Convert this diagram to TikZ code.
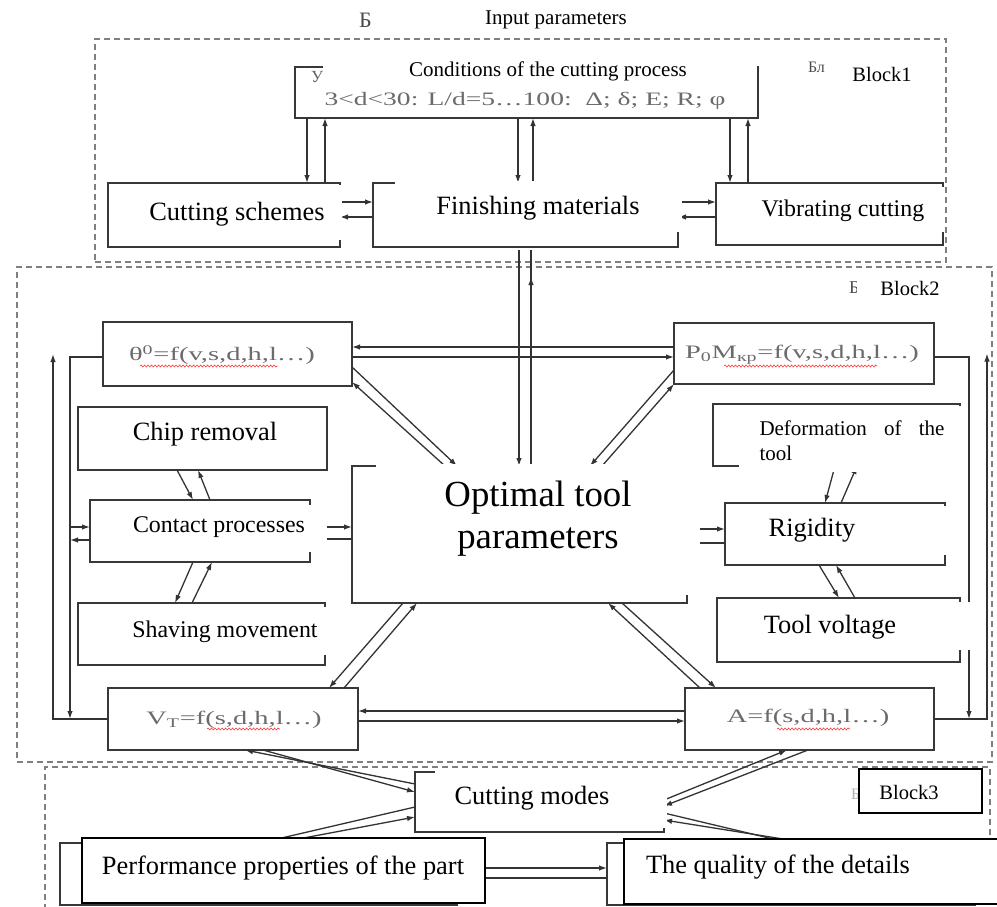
\documentclass[tikz,border=0pt]{standalone}
\usepackage{fontspec}
\usepackage{graphicx}
\setmainfont{Liberation Serif}
\usetikzlibrary{arrows.meta,decorations.pathmorphing}
\newcommand\bx[6]{\node[#6,anchor=north west,minimum width={#4pt-#2pt},minimum height={#5pt-#3pt}] (#1) at (#2,#3) {};}
\newcommand\fsz[2]{\fontsize{#1}{#2}\selectfont}
\newcommand\sx[2]{\scalebox{#1}[1]{#2}}
\begin{document}
\begin{tikzpicture}[x=1pt,y=-1pt,
  orig/.style={draw=black!78,line width=1.5pt,inner sep=0pt,outer sep=0pt},
  ovl/.style={fill=white,inner sep=0pt,outer sep=0pt},
  ovb/.style={fill=white,draw=black,line width=1.1pt,inner sep=0pt,outer sep=0pt},
  blk/.style={draw=black!50,line width=2pt,dash pattern=on 6pt off 4pt,inner sep=0pt,outer sep=0pt},
  arr/.style={draw=black!80,line width=1.3pt,-{Latex[length=8pt,width=5.5pt]}},
  ln/.style={draw=black!80,line width=1.3pt},
  tx/.style={inner sep=0pt,outer sep=0pt,text=black},
  gtx/.style={inner sep=0pt,outer sep=0pt,text=black!58,font=\fsz{19}{22}},
  frag/.style={inner sep=0pt,outer sep=0pt,text=black!70,anchor=west},
  wav/.style={draw=red!80,line width=0.6pt,decorate,decoration={snake,amplitude=1pt,segment length=3.5pt}},
]
\fill[white] (0,0) rectangle (997,907);
\useasboundingbox (0,0) rectangle (997,907);

% ---- dashed blocks
\bx{blk1}{95}{39}{946}{262}{blk}
\bx{blk2}{17}{267}{992}{762}{blk}
\bx{blk3}{45}{767}{990}{930}{blk}

% ---- original boxes
\bx{cond}{295}{67}{758}{118}{orig}
\bx{cs}{108}{183}{340}{247}{orig}
\bx{fm}{373}{183}{678}{247}{orig}
\bx{vc}{716}{183}{943}{245}{orig}
\bx{theta}{103}{322}{352}{386}{orig}
\bx{pbox}{674}{323}{934}{384}{orig}
\bx{chip}{78}{407}{327}{470}{orig}
\bx{cont}{90}{500}{310}{562}{orig}
\bx{shav}{78}{603}{325}{665}{orig}
\bx{vbox}{108}{688}{358}{750}{orig}
\bx{abox}{685}{688}{934}{750}{orig}
\bx{opt}{352}{466}{687}{603}{orig}
\bx{def}{713}{404}{960}{466}{orig}
\bx{rig}{725}{503}{945}{565}{orig}
\bx{tv}{717}{598}{960}{662}{orig}
\bx{cm}{415}{772}{664}{832}{orig}
\bx{perf}{60}{843}{457}{905}{orig}
\bx{qual}{607}{843}{975}{905}{orig}

\coordinate (b1out) at (525,250);
\coordinate (b2in) at (525,277);

% ---- block 1 connectors
\draw[arr] (307,0 |- cond.south) -- (307,0 |- cs.north);
\draw[arr] (325,0 |- cs.north) -- (325,0 |- cond.south);
\draw[arr] (518,0 |- cond.south) -- (518,0 |- fm.north);
\draw[arr] (533,0 |- fm.north) -- (533,0 |- cond.south);
\draw[arr] (730,0 |- cond.south) -- (730,0 |- vc.north);
\draw[arr] (748,0 |- vc.north) -- (748,0 |- cond.south);
\draw[arr] (cs.east |- 0,202) -- (fm.west |- 0,202);
\draw[arr] (fm.west |- 0,217) -- (cs.east |- 0,217);
\draw[arr] (fm.east |- 0,202) -- (vc.west |- 0,202);
\draw[arr] (vc.west |- 0,217) -- (fm.east |- 0,217);

% ---- block 1 to optimal
\draw[arr] (519,0 |- b1out) -- (519,0 |- opt.north);
\draw[ln] (531,0 |- opt.north) -- (531,0 |- b1out);
\draw[arr] (531,0 |- opt.north) -- (531,0 |- b2in);

% ---- block 2 connectors
\draw[arr] (pbox.west |- 0,347) -- (theta.east |- 0,347);
\draw[arr] (theta.east |- 0,357) -- (pbox.west |- 0,357);
\draw[arr] (theta.west |- 0,357) -| (70,0 |- vbox.west);
\draw[arr] (vbox.west) -| (53,0 |- theta.west);
\draw[arr] (pbox.east |- 0,357) -| (969,0 |- abox.east);
\draw[arr] (abox.east) -| (987,0 |- pbox.east);
\draw[arr] (70,527) -- (cont.west |- 0,527);
\draw[arr] (cont.west |- 0,540) -- (70,540);
\draw[arr] (cont.east |- 0,527) -- (opt.west |- 0,527);
\draw[arr] (opt.west |- 0,539) -- (cont.east |- 0,539);
\draw[arr] (177,0 |- chip.south) -- (193,0 |- cont.north);
\draw[arr] (210,0 |- cont.north) -- (198,0 |- chip.south);
\draw[arr] (193,0 |- cont.south) -- (175,0 |- shav.north);
\draw[arr] (192,0 |- shav.north) -- (212,0 |- cont.south);
\draw[arr] (theta.east |- 0,367) -- (457,0 |- opt.north);
\draw[arr] (445,0 |- opt.north) -- (theta.east |- 0,382);
\draw[arr] (pbox.west |- 0,370) -- (590,0 |- opt.north);
\draw[arr] (602,0 |- opt.north) -- (pbox.south west);
\draw[arr] (403,0 |- opt.south) -- (329,0 |- vbox.north);
\draw[arr] (344,0 |- vbox.north) -- (417,0 |- opt.south);
\draw[arr] (622,0 |- opt.south) -- (716,0 |- abox.north);
\draw[arr] (700,0 |- abox.north) -- (608,0 |- opt.south);
\draw[arr] (abox.west |- 0,711) -- (vbox.east |- 0,711);
\draw[arr] (vbox.east |- 0,721) -- (abox.west |- 0,721);
\draw[arr] (835,0 |- def.south) -- (825,0 |- rig.north);
\draw[arr] (841,0 |- rig.north) -- (857,0 |- def.south);
\draw[arr] (opt.east |- 0,529) -- (rig.west |- 0,529);
\draw[arr] (rig.west |- 0,543) -- (opt.east |- 0,543);
\draw[arr] (819,0 |- rig.south) -- (839,0 |- tv.north);
\draw[arr] (855,0 |- tv.north) -- (836,0 |- rig.south);

% ---- block 3 connectors
\draw[arr] (cm.west |- 0,784) -- (245,0 |- vbox.south);
\draw[arr] (263,0 |- vbox.south) -- (cm.west |- 0,792);
\draw[arr] (cm.east |- 0,800) -- (787,0 |- abox.south);
\draw[arr] (808,0 |- abox.south) -- (cm.east |- 0,806);
\draw[arr] (cm.east |- 0,813) -- (790,0 |- qual.north);
\draw[arr] (808,0 |- qual.north) -- (cm.east |- 0,820);
\draw[arr] (cm.west |- 0,807) -- (260,0 |- perf.north);
\draw[arr] (277,0 |- perf.north) -- (cm.west |- 0,817);
\draw[arr] (perf.east |- 0,868) -- (qual.west |- 0,868);
\draw[arr] (qual.west |- 0,878) -- (perf.east |- 0,878);

% ---- underlying grey texts and fragments
\node[gtx] (tcl) at (525,101) {\sx{1.45}{3<d<30: L/d=5…100:\ \ Δ; δ; E; R; φ}};
\node[gtx] (tth) at (222,355) {\sx{1.5}{θ\textsuperscript{0}=f(v,s,d,h,l…)}};
\node[gtx] (tpp) at (802,355) {\sx{1.5}{P\textsubscript{0}M\textsubscript{кр}=f(v,s,d,h,l…)}};
\node[gtx] (tvv) at (234,720) {\sx{1.5}{V\textsubscript{T}=f(s,d,h,l…)}};
\node[gtx] (taa) at (808,718) {\sx{1.5}{A=f(s,d,h,l…)}};
\draw[wav] (140,366) -- (277,366);
\draw[wav] (724,366) -- (877,366);
\draw[wav] (207,729) -- (280,729);
\draw[wav] (777,729) -- (850,729);
\node[frag,font=\fsz{22}{24}] (fb0) at (359,20) {Б};
\node[frag,font=\fsz{17}{20},text=black!60] (fu) at (311,77) {У};
\node[frag,font=\fsz{16}{18}] (fb1) at (808,67) {Бл};
\node[frag,font=\fsz{18}{20}] (fb2) at (849,288) {Б};
\node[frag,font=\fsz{16}{18},text=black!30] (fb3) at (851,794) {Б};

% ---- overlays
\bx{ovin}{373}{0}{735}{37}{ovl}
\bx{ovcond}{323}{40}{757}{88}{ovl}
\bx{ovb1}{830}{42}{944}{90}{ovl}
\bx{ovcs}{112}{185}{342}{240}{ovl}
\bx{ovfm}{395}{181}{682}{232}{ovl}
\bx{ovvc}{748}{187}{944}{232}{ovl}
\bx{ovb2}{857}{269}{990}{305}{ovl}
\bx{ovchip}{112}{410}{325}{464}{ovl}
\bx{ovcont}{113}{505}{327}{552}{ovl}
\bx{ovshav}{113}{607}{327}{655}{ovl}
\bx{ovopt}{376}{464}{700}{595}{ovl}
\bx{ovdef}{739}{406}{962}{472}{ovl}
\bx{ovrig}{747}{506}{950}{555}{ovl}
\bx{ovtv}{742}{602}{972}{650}{ovl}
\bx{ovcm}{435}{770}{667}{828}{ovl}
\bx{ovb3}{859}{769}{982}{813}{ovb}
\bx{ovperf}{82}{838}{485}{903}{ovb}
\bx{ovqual}{624}{839}{1002}{904}{ovb}

% ---- overlay texts
\node[tx,font=\fsz{21}{25}] (tin) at (556,20) {Input parameters};
\node[tx,font=\fsz{21}{25}] (tcond) at (548,71) {Conditions of the cutting process};
\node[tx,font=\fsz{20.5}{24}] (tb1) at (882,74) {Block1};
\node[tx,font=\fsz{26.4}{30}] (tcs) at (237,214) {Cutting schemes};
\node[tx,font=\fsz{26.4}{30}] (tfm) at (538,208) {Finishing materials};
\node[tx,font=\fsz{23.9}{28}] (tvc) at (843,211) {Vibrating cutting};
\node[tx,font=\fsz{20.5}{24}] (tb2) at (910,288) {Block2};
\node[tx,font=\fsz{26.4}{30}] (tchip) at (205,434) {Chip removal};
\node[tx,font=\fsz{23.9}{28}] (tcont) at (219,527) {Contact processes};
\node[tx,font=\fsz{23.9}{28}] (tshav) at (225,632) {Shaving movement};
\node[tx,font=\fsz{36.8}{42},align=center] (topt) at (538,519) {Optimal tool\\parameters};
\node[tx,font=\fsz{21}{25},text width=185pt,align=left] (tdef) at (852,441) {Deformation\hfill of\hfill the\\tool};
\node[tx,font=\fsz{26.4}{30}] (trig) at (812,530) {Rigidity};
\node[tx,font=\fsz{26.4}{30}] (ttv) at (830,627) {Tool voltage};
\node[tx,font=\fsz{26.4}{30}] (tcm) at (532,798) {Cutting modes};
\node[tx,font=\fsz{20.5}{24}] (tb3) at (909,792) {Block3};
\node[tx,font=\fsz{26.4}{30}] (tperf) at (283,868) {Performance properties of the part};
\node[tx,font=\fsz{26.4}{30}] (tqual) at (778,867) {The quality of the details};
\end{tikzpicture}
\end{document}
